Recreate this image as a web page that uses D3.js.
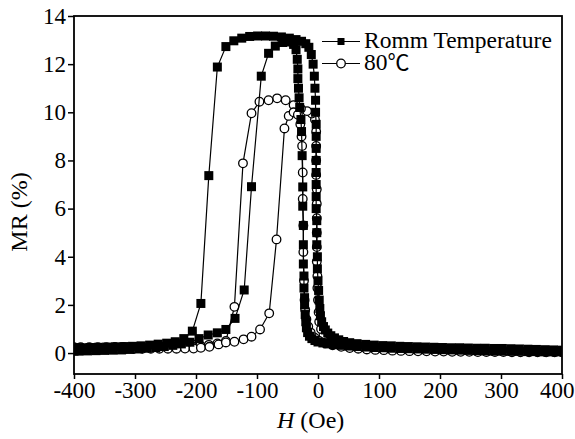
<!DOCTYPE html>
<html>
<head>
<meta charset="utf-8">
<script src="https://cdn.jsdelivr.net/npm/d3@7"></script>
<style>
  body { margin: 0; background: #fff; }
  svg text { font-family: 'Liberation Serif', 'Times New Roman', serif; }
</style>
</head>
<body>
<script>
// MR loops, [H (Oe), MR (%)] in measurement order
var rtSweepDown = [[400,0.12],[386,0.13],[372,0.14],[358,0.15],[344,0.16],[330,0.17],[316,0.18],[302,0.19],[288,0.19],[274,0.2],[260,0.2],[246,0.21],[232,0.22],[218,0.22],[204,0.23],[190,0.24],[176,0.25],[162,0.26],[148,0.27],[134,0.28],[120,0.3],[106,0.31],[92,0.33],[78,0.36],[64,0.39],[52,0.43],[42,0.48],[34,0.55],[27,0.63],[21,0.72],[16,0.83],[12,0.96],[9,1.1],[6,1.3],[4,1.55],[3,1.85],[2,2.2],[1,2.6],[0,3.0],[-1,3.5],[-1,4.0],[-2,4.5],[-2,5.0],[-2,5.5],[-3,6.0],[-3,6.5],[-3,7.0],[-3,7.5],[-3,8.0],[-3,8.5],[-3,9.0],[-3,9.5],[-4,10.0],[-4,10.5],[-5,11.0],[-6,11.5],[-8,12.0],[-11,12.4],[-15,12.7],[-20,12.85],[-27,12.95],[-36,13.02],[-47,13.08],[-60,13.13],[-73,13.16],[-86,13.17],[-99,13.17],[-112,13.15],[-125,13.08],[-138,12.97],[-151,12.73],[-165,11.88],[-179,7.37],[-192,2.06],[-206,0.91],[-220,0.6],[-234,0.47],[-248,0.41],[-262,0.37],[-276,0.33],[-290,0.3],[-304,0.28],[-318,0.27],[-332,0.26],[-346,0.25],[-360,0.24],[-374,0.23],[-388,0.22],[-400,0.22]]

var rtSweepUp = [[-400,0.08],[-392,0.08],[-378,0.09],[-364,0.1],[-350,0.11],[-336,0.12],[-322,0.13],[-308,0.15],[-294,0.17],[-280,0.2],[-266,0.23],[-252,0.27],[-238,0.32],[-224,0.38],[-210,0.45],[-195,0.6],[-180,0.75],[-165,0.84],[-151,0.98],[-136,1.44],[-121,2.62],[-109,6.91],[-93,11.5],[-81,12.45],[-70,12.75],[-58,12.9],[-47,12.92],[-40,12.82],[-36,12.6],[-34,12.2],[-33,11.8],[-33,11.4],[-32,11.0],[-31,10.6],[-30,10.2],[-28,9.7],[-27,9.2],[-26,8.2],[-25,6.9],[-25,6.1],[-24,5.3],[-24,4.5],[-24,3.7],[-23,3.2],[-23,2.7],[-22,2.3],[-22,2.0],[-21,1.6],[-20,1.3],[-19,1.05],[-17,0.85],[-14,0.7],[-10,0.6],[-5,0.52],[0,0.46],[8,0.42],[16,0.38],[26,0.35],[38,0.32],[50,0.29],[64,0.27],[78,0.25],[92,0.23],[106,0.22],[120,0.2],[134,0.19],[148,0.18],[162,0.17],[176,0.16],[190,0.15],[204,0.14],[218,0.13],[232,0.12],[246,0.11],[260,0.1],[274,0.09],[288,0.08],[302,0.08],[316,0.07],[330,0.07],[344,0.06],[358,0.06],[372,0.05],[386,0.05],[400,0.05]]

var hotSweepDown = [[400,0.04],[386,0.05],[372,0.05],[358,0.06],[344,0.06],[330,0.07],[316,0.07],[302,0.08],[288,0.08],[274,0.09],[260,0.09],[246,0.1],[232,0.1],[218,0.11],[204,0.11],[190,0.12],[176,0.12],[162,0.13],[148,0.14],[134,0.15],[120,0.16],[106,0.17],[92,0.19],[78,0.21],[64,0.24],[50,0.28],[38,0.33],[28,0.4],[20,0.5],[14,0.62],[9,0.78],[5,1.0],[2,1.3],[1,1.7],[0,2.2],[-1,2.7],[-1,3.2],[-2,3.8],[-2,4.4],[-2,5.0],[-2,5.6],[-2,6.2],[-2,6.8],[-3,7.4],[-3,8.0],[-3,8.6],[-3,9.2],[-5,9.7],[-10,9.95],[-18,10.05],[-28,10.15],[-40,10.3],[-53,10.5],[-67,10.58],[-81,10.5],[-96,10.44],[-109,9.96],[-123,7.88],[-137,1.92],[-151,0.5],[-165,0.4],[-179,0.34],[-193,0.31],[-207,0.29],[-221,0.28],[-235,0.27],[-249,0.27],[-263,0.26],[-277,0.26],[-291,0.25],[-305,0.25],[-319,0.25],[-333,0.25],[-347,0.24],[-361,0.24],[-375,0.24],[-389,0.24],[-400,0.24]]

var hotSweepUp = [[-400,0.16],[-386,0.16],[-372,0.16],[-358,0.17],[-344,0.17],[-330,0.17],[-316,0.18],[-302,0.18],[-288,0.18],[-274,0.18],[-260,0.18],[-246,0.18],[-232,0.18],[-218,0.19],[-204,0.19],[-192,0.22],[-178,0.26],[-163,0.36],[-151,0.44],[-137,0.47],[-122,0.57],[-109,0.68],[-95,0.98],[-80,1.65],[-68,4.72],[-55,9.33],[-48,9.85],[-40,10.0],[-33,9.9],[-29,9.5],[-27,9.0],[-26,8.6],[-25,7.5],[-25,6.4],[-24,5.3],[-24,4.2],[-23,3.0],[-22,2.2],[-21,1.8],[-19,1.4],[-16,1.1],[-12,0.85],[-6,0.65],[2,0.5],[12,0.4],[24,0.32],[38,0.26],[52,0.21],[66,0.18],[80,0.15],[94,0.13],[108,0.12],[122,0.1],[136,0.09],[150,0.08],[164,0.07],[178,0.07],[192,0.06],[206,0.06],[220,0.05],[234,0.05],[248,0.05],[262,0.04],[276,0.04],[290,0.04],[304,0.04],[318,0.03],[332,0.03],[346,0.03],[360,0.03],[374,0.03],[388,0.03],[400,0.03]]

var xTicks = [-400, -300, -200, -100, 0, 100, 200, 300, 400]
var yTicks = [0, 2, 4, 6, 8, 10, 12, 14]
var legendLabels = ['Romm Temperature', '80']

var W = 575
var H = 439
var m = { top: 16, right: 13, bottom: 65, left: 74 }
var fontFam = "'Liberation Serif', 'Times New Roman', serif"

var svg = d3.select('body').append('svg')
  .attr('width', W)
  .attr('height', H)

var x = d3.scaleLinear().domain([-400, 400]).range([m.left, W - m.right])
var y = d3.scaleLinear().domain([-0.87, 14]).range([H - m.bottom, m.top])

svg.append('clipPath').attr('id', 'plotclip')
  .append('rect')
    .attr('x', m.left).attr('y', m.top)
    .attr('width', W - m.left - m.right)
    .attr('height', H - m.top - m.bottom)

var line = d3.line()
  .x(function (d) { return x(d[0]) })
  .y(function (d) { return y(d[1]) })

var plot = svg.append('g').attr('clip-path', 'url(#plotclip)')

// 80 C first, open circles
;[hotSweepDown, hotSweepUp].forEach(function (s) {
  plot.append('path').datum(s)
    .attr('d', line)
    .attr('fill', 'none')
    .attr('stroke', '#000')
    .attr('stroke-width', 1.2)
})
;[hotSweepDown, hotSweepUp].forEach(function (s) {
  plot.append('g').selectAll('circle')
    .data(s)
    .enter().append('circle')
      .attr('cx', function (d) { return x(d[0]) })
      .attr('cy', function (d) { return y(d[1]) })
      .attr('r', 4.3)
      .attr('fill', '#fff')
      .attr('stroke', '#000')
      .attr('stroke-width', 1.3)
})

// room temperature, filled squares
;[rtSweepDown, rtSweepUp].forEach(function (s) {
  plot.append('path').datum(s)
    .attr('d', line)
    .attr('fill', 'none')
    .attr('stroke', '#000')
    .attr('stroke-width', 1.2)
})
var sq = 9
;[rtSweepDown, rtSweepUp].forEach(function (s) {
  plot.append('g').selectAll('rect')
    .data(s)
    .enter().append('rect')
      .attr('x', function (d) { return x(d[0]) - sq / 2 })
      .attr('y', function (d) { return y(d[1]) - sq / 2 })
      .attr('width', sq)
      .attr('height', sq)
      .attr('fill', '#000')
})

// axes
var xAxis = svg.append('g')
  .attr('transform', 'translate(0,' + (H - m.bottom) + ')')
  .call(d3.axisBottom(x).tickValues(xTicks).tickSize(5).tickPadding(3)
    .tickFormat(function (d) { return String(d) }))
var yAxis = svg.append('g')
  .attr('transform', 'translate(' + m.left + ',0)')
  .call(d3.axisLeft(y).tickValues(yTicks).tickSize(6).tickPadding(2)
    .tickFormat(function (d) { return String(d) }))

;[xAxis, yAxis].forEach(function (a) {
  a.attr('font-family', null).attr('font-size', null)
  a.select('.domain').remove()
  a.selectAll('line').attr('stroke-width', 1.5)
  a.selectAll('text')
    .style('font-family', fontFam)
    .style('font-size', '23px')
    .attr('fill', '#000')
})
// last label sits inside the window edge
xAxis.selectAll('.tick').filter(function (d) { return d === 400 })
  .select('text').attr('text-anchor', 'end').attr('x', 12)

svg.append('rect')
  .attr('x', m.left).attr('y', m.top)
  .attr('width', W - m.left - m.right)
  .attr('height', H - m.top - m.bottom)
  .attr('fill', 'none')
  .attr('stroke', '#000')
  .attr('stroke-width', 1.8)

// axis titles
svg.append('text')
  .attr('transform', 'translate(27,212) rotate(-90)')
  .attr('text-anchor', 'middle')
  .style('font-family', fontFam)
  .style('font-size', '24px')
  .text('MR (%)')

var xt = svg.append('text')
  .attr('x', 277).attr('y', 428)
  .style('font-family', fontFam)
  .style('font-size', '24px')
xt.append('tspan').attr('font-style', 'italic').text('H')
xt.append('tspan').text(' (Oe)')

// legend
var lg = svg.append('g')
legendLabels.forEach(function (lab, i) {
  var ly = 41.5 + i * 22
  lg.append('line')
    .attr('x1', 322).attr('x2', 360)
    .attr('y1', ly).attr('y2', ly)
    .attr('stroke', '#000').attr('stroke-width', 1.2)
  if (i === 0) {
    lg.append('rect')
      .attr('x', 341 - 3.5).attr('y', ly - 3.5)
      .attr('width', 7).attr('height', 7)
      .attr('fill', '#000')
  } else {
    lg.append('circle')
      .attr('cx', 341).attr('cy', ly).attr('r', 4.3)
      .attr('fill', '#fff').attr('stroke', '#000').attr('stroke-width', 1.3)
  }
  var t = lg.append('text')
    .attr('x', 364).attr('y', ly + 6.5)
    .style('font-family', fontFam)
    .style('font-size', '23.5px')
  t.append('tspan').text(lab)
  if (i === 1) {
    t.append('tspan')
      .style('font-family', "'Noto Sans CJK SC', 'DejaVu Serif', serif")
      .style('font-size', '22px')
      .text('\u2103')
  }
})
</script>
</body>
</html>
